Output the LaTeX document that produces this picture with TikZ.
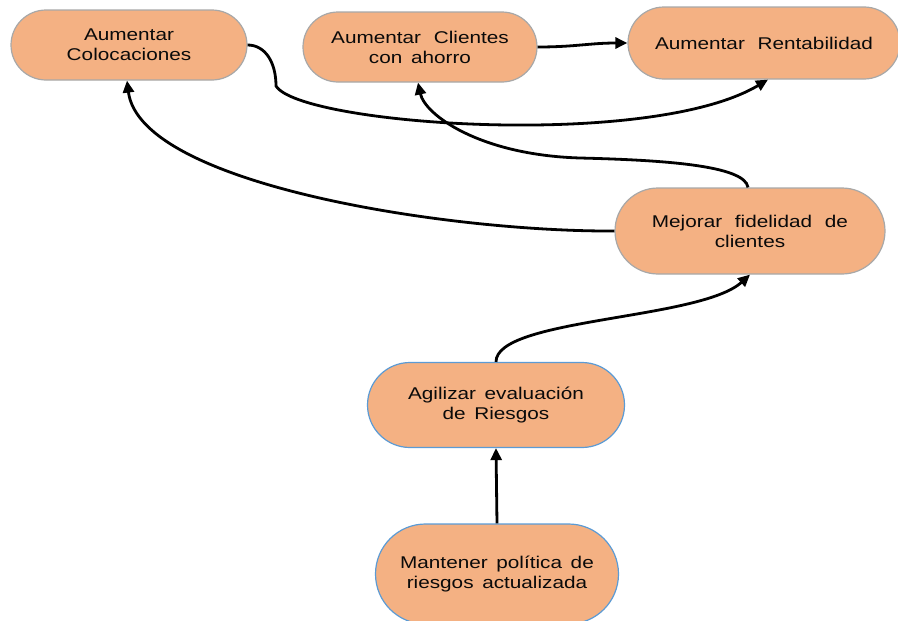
\documentclass[tikz,border=0pt]{standalone}
\usepackage{fontspec}
\setmainfont{Liberation Sans}[FakeStretch=1.22, WordSpace=1.5]
\usetikzlibrary{arrows.meta}
\definecolor{boxfill}{RGB}{244,177,131}
\definecolor{greyline}{RGB}{168,168,168}
\definecolor{blueline}{RGB}{91,155,213}
\definecolor{inktext}{RGB}{10,10,10}
\newcommand{\widegap}{\hspace{0.75em}}

\begin{document}
\begin{tikzpicture}[x=1pt,y=-1pt,
  goal/.style={fill=boxfill, line width=1.2pt, align=center, text=inktext,
    font=\fontsize{17}{20}\selectfont, inner sep=0pt},
  greygoal/.style={goal, draw=greyline},
  bluegoal/.style={goal, draw=blueline},
  link/.style={line width=2.8pt, -{Triangle[length=12pt,width=11pt]}}]
\useasboundingbox (0,0) rectangle (898,621);

% objectives
\node[greygoal, minimum width=236pt, minimum height=70pt, rounded corners=35pt]
  (col) at (129,45) {Aumentar\\Colocaciones};
\node[greygoal, minimum width=234pt, minimum height=70pt, rounded corners=35pt]
  (cli) at (420,47) {Aumentar\widegap Clientes\\con ahorro};
\node[greygoal, minimum width=272pt, minimum height=72pt, rounded corners=36pt]
  (rent) at (764,43) {Aumentar\widegap Rentabilidad};
\node[greygoal, minimum width=270pt, minimum height=86pt, rounded corners=43pt]
  (mej) at (750,231) {Mejorar\widegap fidelidad\widegap de\\clientes};
\node[bluegoal, minimum width=257pt, minimum height=85pt, rounded corners=42.5pt]
  (agi) at (496,405) {Agilizar evaluación\\de Riesgos};
\node[bluegoal, minimum width=243pt, minimum height=100pt, rounded corners=50pt]
  (man) at (497,574) {Mantener política de\\riesgos actualizada};

% cause-effect links
\draw[link] (col.east) .. controls (265,45) and (276,62) .. (276,86)
  .. controls (300,125) and (650,150) .. ([xshift=4pt]rent.south);
\draw[link] (cli.east) .. controls (575,47) and (590,43) .. (rent.west);
\draw[link] ([xshift=-2pt]mej.north) .. controls (745,165) and (660,160) .. (580,158)
  .. controls (480,155) and (425,115) .. ([xshift=-2pt]cli.south);
\draw[link] (mej.west) .. controls (450,232) and (140,185) .. ([xshift=-2pt]col.south);
\draw[link] (agi.north) .. controls (496,318) and (700,320) .. (mej.south);
\draw[link] (man.north) -- (agi.south);
\end{tikzpicture}
\end{document}
